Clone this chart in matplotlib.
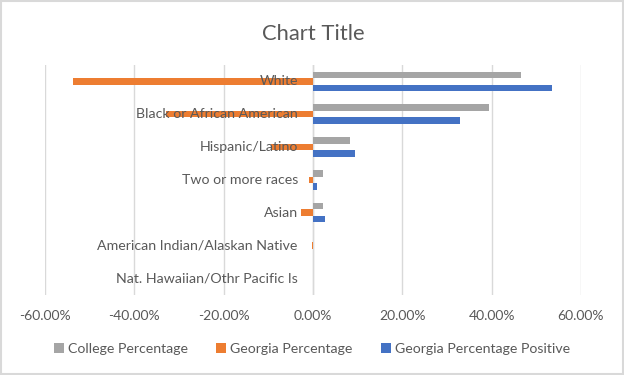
import numpy as np
import matplotlib
matplotlib.use('Agg')
import matplotlib.pyplot as plt
from matplotlib.ticker import FuncFormatter
from matplotlib.patches import Rectangle

plt.rcParams['font.family'] = ['Lato', 'DejaVu Sans']

categories = ['White', 'Black or African American', 'Hispanic/Latino',
              'Two or more races', 'Asian', 'American Indian/Alaskan Native',
              'Nat. Hawaiian/Othr Pacific Is']
college_pct = [46.6, 39.5, 8.4, 2.2, 2.2, 0.0, 0.0]
georgia_pct = [-53.7, -33.0, -9.3, -1.0, -2.6, -0.3, -0.1]
georgia_pos = [53.6, 32.9, 9.3, 0.9, 2.7, 0.0, 0.0]

series = [('College Percentage', college_pct, '#A5A5A5'),
          ('Georgia Percentage', georgia_pct, '#ED7D31'),
          ('Georgia Percentage Positive', georgia_pos, '#4472C4')]

txt = '#595959'
grid_c = '#D9D9D9'

fig = plt.figure(figsize=(6.24, 3.75), dpi=100)
ax = fig.add_axes([0.0721, 0.2144, 0.8589, 0.6123])

n = len(categories)
y = np.arange(n)[::-1].astype(float)
h = 0.2
for i, (name, vals, col) in enumerate(series):
    ax.barh(y + (1 - i) * h, vals, height=h, color=col, label=name, zorder=3)

ax.set_xlim(-60, 60)
ax.set_ylim(-0.5, n - 0.5)
ax.set_xticks(np.arange(-60, 61, 20))
ax.xaxis.set_major_formatter(FuncFormatter(lambda v, p: '%.2f%%' % v))
ax.grid(axis='x', color=grid_c, linewidth=1, zorder=0)
ax.axvline(0, color=grid_c, linewidth=1, zorder=2)
for s in ax.spines.values():
    s.set_visible(False)
ax.tick_params(axis='x', length=0, colors=txt, labelsize=10, pad=11)
ax.set_yticks([])

# category labels sit next to the zero line, like Excel does
for yy, c in zip(y, categories):
    ax.text(-3.4, yy, c, ha='right', va='center', color=txt, fontsize=10.2, zorder=4)

ax.set_title('Chart Title', color=txt, fontsize=15.8, pad=18)

leg = fig.legend(loc='center', bbox_to_anchor=(0.5, 0.069), ncol=3, frameon=False,
                 fontsize=10.2, handlelength=0.7, handleheight=0.7, handletextpad=0.3,
                 columnspacing=2.0)
for t in leg.get_texts():
    t.set_color(txt)

fig.patches.append(Rectangle((0.001, 0.002), 0.997, 0.995, transform=fig.transFigure,
                             fill=False, edgecolor='#D9D9D9', linewidth=1.5))

fig.savefig('out.png', dpi=100)
